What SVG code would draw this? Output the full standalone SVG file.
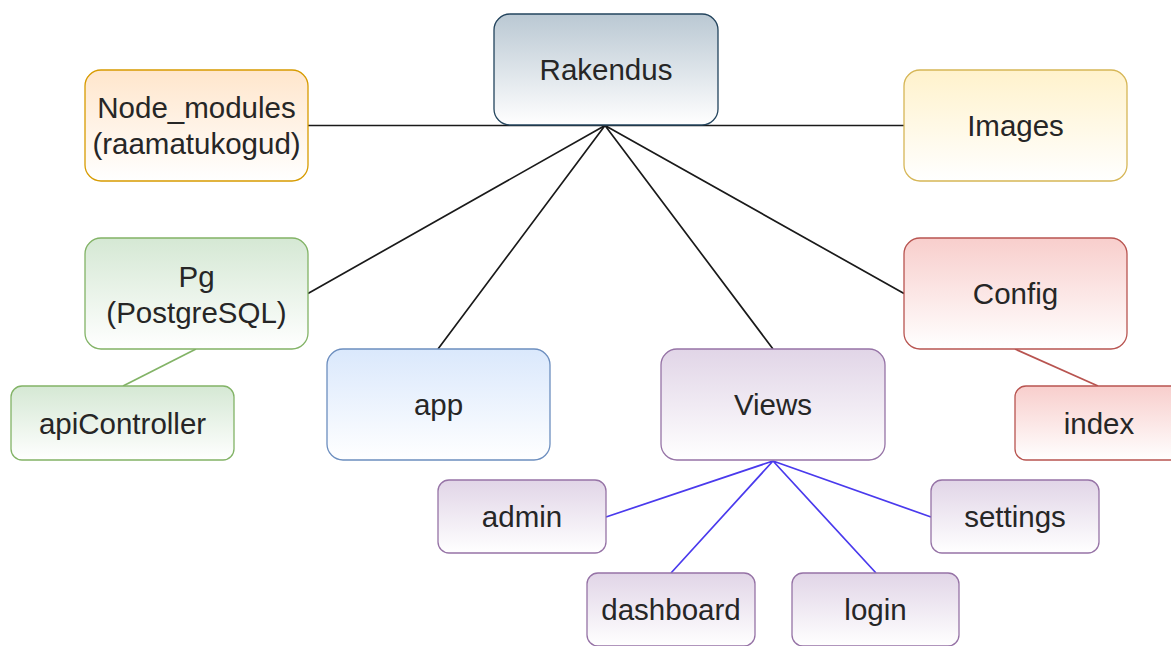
<svg xmlns="http://www.w3.org/2000/svg" width="1171" height="646" viewBox="0 0 1171 646">
<style>
text{font-family:"Liberation Sans",Arial,sans-serif;font-size:29.5px;fill:#262626;text-anchor:middle}
.c{fill:none;stroke-width:1.7}
</style>
<defs>
<linearGradient id="gGray" x1="0" y1="0" x2="0" y2="1"><stop offset="0" stop-color="#bac8d3"/><stop offset="1" stop-color="#fff"/></linearGradient>
<linearGradient id="gOrange" x1="0" y1="0" x2="0" y2="1"><stop offset="0" stop-color="#ffe6cc"/><stop offset="1" stop-color="#fff"/></linearGradient>
<linearGradient id="gYellow" x1="0" y1="0" x2="0" y2="1"><stop offset="0" stop-color="#fff2cc"/><stop offset="1" stop-color="#fff"/></linearGradient>
<linearGradient id="gGreen" x1="0" y1="0" x2="0" y2="1"><stop offset="0" stop-color="#d5e8d4"/><stop offset="1" stop-color="#fff"/></linearGradient>
<linearGradient id="gRed" x1="0" y1="0" x2="0" y2="1"><stop offset="0" stop-color="#f8cecc"/><stop offset="1" stop-color="#fff"/></linearGradient>
<linearGradient id="gBlue" x1="0" y1="0" x2="0" y2="1"><stop offset="0" stop-color="#dae8fc"/><stop offset="1" stop-color="#fff"/></linearGradient>
<linearGradient id="gPurple" x1="0" y1="0" x2="0" y2="1"><stop offset="0" stop-color="#e1d5e7"/><stop offset="1" stop-color="#fff"/></linearGradient>
</defs>
<g id="connectors">
<path class="c" stroke="#1a1a1a" d="M308 125.5H904"/>
<path class="c" stroke="#1a1a1a" d="M605 125.5L308 293.5M605 125.5L438 349M605 125.5L773 349M605 125.5L904 293.5"/>
<path class="c" stroke="#82b366" d="M196 349L123 386"/>
<path class="c" stroke="#b85450" d="M1015 349L1098 386"/>
<path class="c" stroke="#4a3aed" d="M773 461L606 517M773 461L671 573M773 461L876 573M773 461L931 517"/>
</g>
<g id="rakendus"><rect x="494" y="14" width="224" height="111" rx="16" fill="url(#gGray)" stroke="#23445d" stroke-width="1.3"/><text x="606" y="80">Rakendus</text></g>
<g id="node_modules"><rect x="85" y="70" width="223" height="111" rx="16" fill="url(#gOrange)" stroke="#d79b00" stroke-width="1.3"/><text x="196.5" y="118">Node_modules</text><text x="196.5" y="154">(raamatukogud)</text></g>
<g id="images"><rect x="904" y="70" width="223" height="111" rx="16" fill="url(#gYellow)" stroke="#d6b656" stroke-width="1.3"/><text x="1015.5" y="136">Images</text></g>
<g id="pg"><rect x="85" y="238" width="223" height="111" rx="16" fill="url(#gGreen)" stroke="#82b366" stroke-width="1.3"/><text x="196.5" y="287">Pg</text><text x="196.5" y="323">(PostgreSQL)</text></g>
<g id="apiController"><rect x="11" y="386" width="223" height="74" rx="11" fill="url(#gGreen)" stroke="#82b366" stroke-width="1.3"/><text x="122.5" y="434">apiController</text></g>
<g id="config"><rect x="904" y="238" width="223" height="111" rx="16" fill="url(#gRed)" stroke="#b85450" stroke-width="1.3"/><text x="1015.5" y="304">Config</text></g>
<g id="index"><rect x="1015" y="386" width="168" height="74" rx="11" fill="url(#gRed)" stroke="#b85450" stroke-width="1.3"/><text x="1099" y="434">index</text></g>
<g id="app"><rect x="327" y="349" width="223" height="111" rx="16" fill="url(#gBlue)" stroke="#6c8ebf" stroke-width="1.3"/><text x="438.5" y="415">app</text></g>
<g id="views"><rect x="661" y="349" width="224" height="111" rx="16" fill="url(#gPurple)" stroke="#9673a6" stroke-width="1.3"/><text x="773" y="415">Views</text></g>
<g id="admin"><rect x="438" y="480" width="168" height="73" rx="11" fill="url(#gPurple)" stroke="#9673a6" stroke-width="1.3"/><text x="522" y="527">admin</text></g>
<g id="settings"><rect x="931" y="480" width="168" height="73" rx="11" fill="url(#gPurple)" stroke="#9673a6" stroke-width="1.3"/><text x="1015" y="527">settings</text></g>
<g id="dashboard"><rect x="587" y="573" width="168" height="73" rx="11" fill="url(#gPurple)" stroke="#9673a6" stroke-width="1.3"/><text x="671" y="620">dashboard</text></g>
<g id="login"><rect x="792" y="573" width="167" height="73" rx="11" fill="url(#gPurple)" stroke="#9673a6" stroke-width="1.3"/><text x="875.5" y="620">login</text></g>
</svg>
